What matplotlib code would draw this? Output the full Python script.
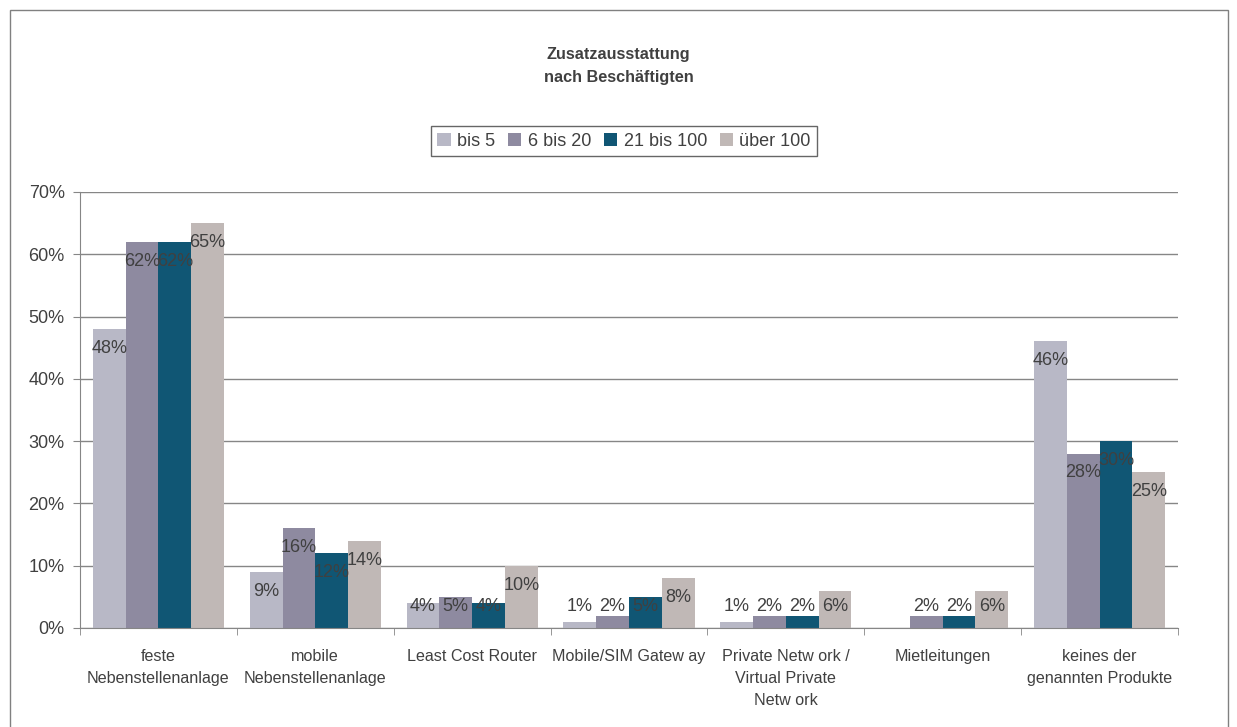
import numpy as np
import matplotlib.pyplot as plt
from matplotlib.patches import Rectangle

plt.rcParams['font.family'] = ['Liberation Sans', 'DejaVu Sans']

# Data
categories = ['feste\nNebenstellenanlage', 'mobile\nNebenstellenanlage', 'Least Cost Router',
              'Mobile/SIM Gatew ay', 'Private Netw ork /\nVirtual Private\nNetw ork',
              'Mietleitungen', 'keines der\ngenannten Produkte']
series = ['bis 5', '6 bis 20', '21 bis 100', 'über 100']
bis5 = [48, 9, 4, 1, 1, 0, 46]
bis20 = [62, 16, 5, 2, 2, 2, 28]
bis100 = [62, 12, 4, 5, 2, 2, 30]
ueber100 = [65, 14, 10, 8, 6, 6, 25]
colors = ['#B8B8C6', '#8E8AA0', '#105674', '#C0B8B6']

text_col = '#404040'
grid_col = '#868686'

fig = plt.figure(figsize=(12.37, 7.27), dpi=100)
fig.patches.append(Rectangle((10 / 1237, -0.01), 1218 / 1237, 717 / 727 + 0.01, transform=fig.transFigure,
                             fill=False, edgecolor='#808080', linewidth=1))
ax = fig.add_axes([80 / 1237, 1 - 628 / 727, 1098 / 1237, (628 - 192) / 727])

x = np.arange(len(categories))
w = 0.209
data = [bis5, bis20, bis100, ueber100]
for i, vals in enumerate(data):
    pos = x + (i - 1.5) * w
    ax.bar(pos, vals, width=w, color=colors[i], label=series[i], zorder=2)
    for p, v in zip(pos, vals):
        if v == 0:
            continue
        ax.text(p, max(v - 3.1, 3.5), f'{v}%', ha='center', va='center',
                fontsize=13, color=text_col, zorder=3)

ax.set_xlim(-0.5, len(categories) - 0.5)
ax.set_ylim(0, 70)
ax.set_yticks(range(0, 71, 10))
ax.set_yticklabels([f'{t}%' for t in range(0, 71, 10)], fontsize=13, color=text_col)
ax.yaxis.grid(True, color=grid_col, linewidth=1)
ax.set_axisbelow(True)

ax.set_xticks(x)
ax.set_xticklabels(categories, fontsize=11.6, color=text_col, linespacing=1.6)
ax.tick_params(axis='x', length=0, pad=15)
ax.set_xticks(np.arange(-0.5, len(categories)), minor=True)
ax.tick_params(axis='x', which='minor', length=5, color=grid_col, direction='out')
ax.tick_params(axis='y', length=5, color=grid_col, pad=6)

for s in ['top', 'right']:
    ax.spines[s].set_visible(False)
for s in ['left', 'bottom']:
    ax.spines[s].set_color(grid_col)

fig.text(0.5, 1 - 66 / 727, 'Zusatzausstattung\nnach Beschäftigten', ha='center', va='center',
         fontsize=11.7, fontweight='bold', color=text_col, linespacing=1.6)

leg = fig.legend(loc='center', bbox_to_anchor=(624 / 1237, 1 - 141 / 727), ncol=4, fontsize=13,
                 frameon=True, fancybox=False, edgecolor='#404040', handlelength=0.75,
                 handleheight=0.75, handletextpad=0.35, columnspacing=0.7, borderpad=0.35)
leg.get_frame().set_linewidth(1)
for t in leg.get_texts():
    t.set_color(text_col)

fig.savefig('out.png', dpi=100)
